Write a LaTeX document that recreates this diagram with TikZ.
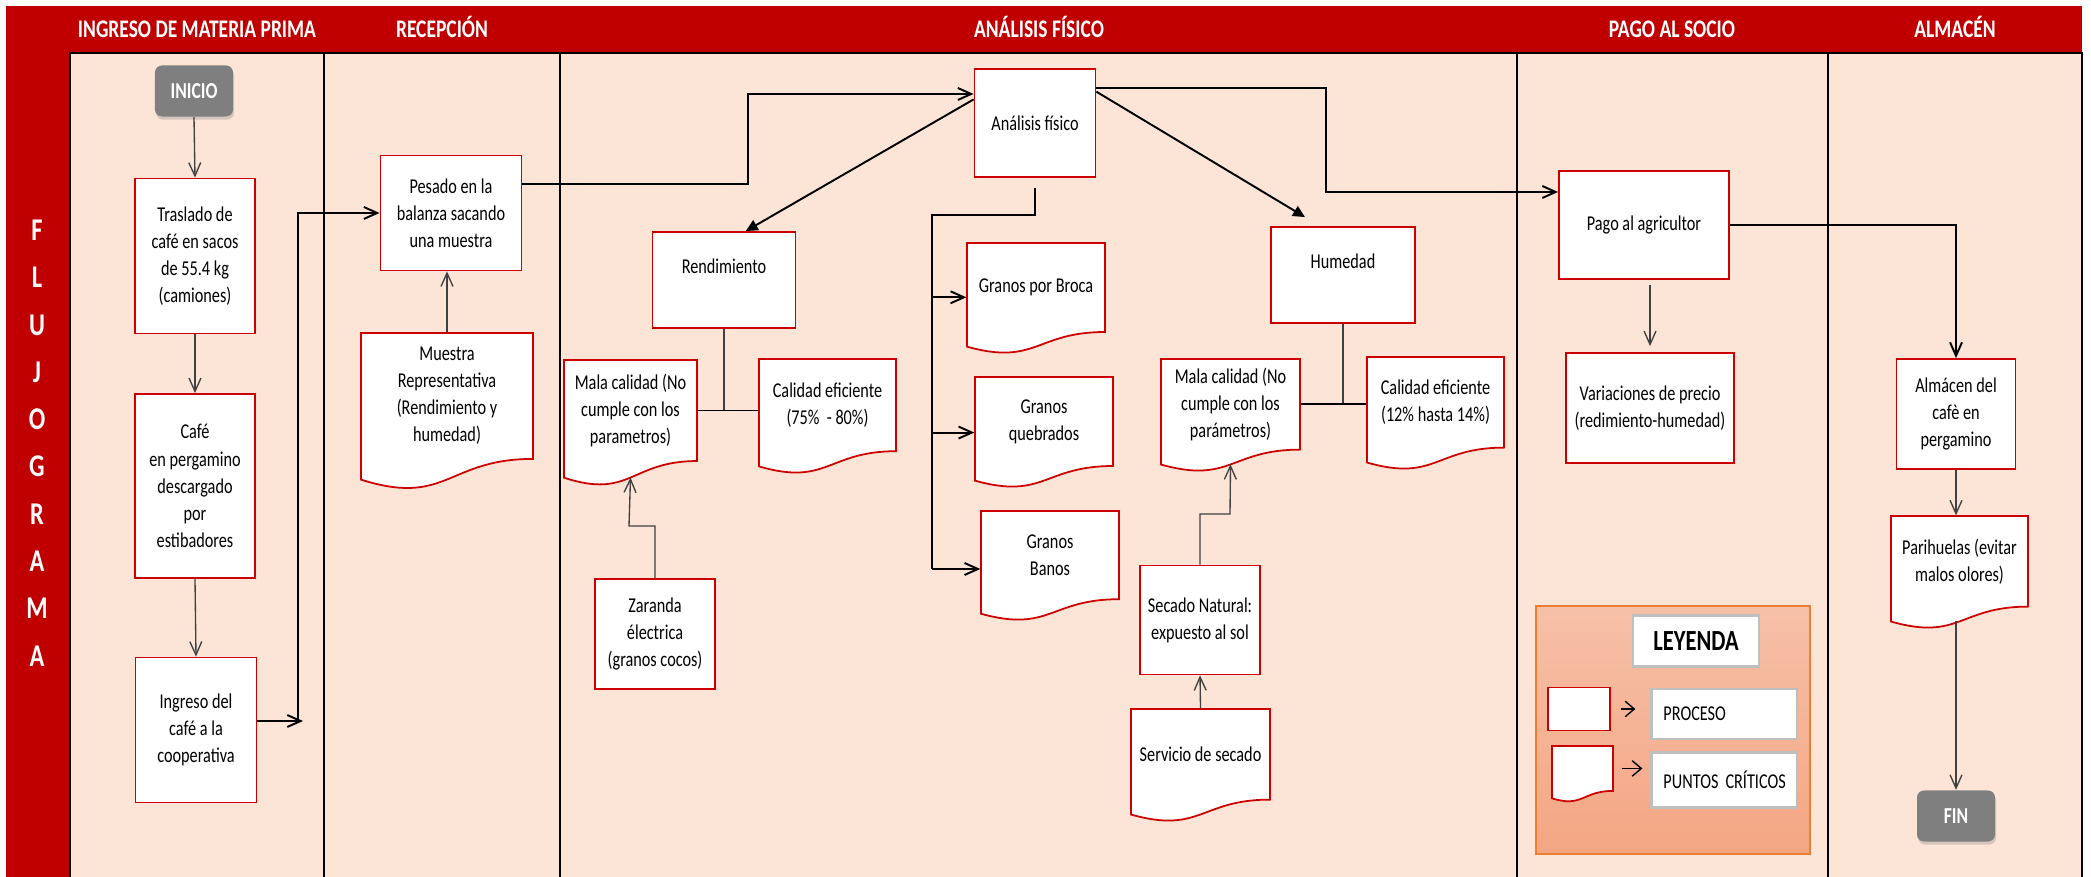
\documentclass[tikz,border=0pt]{standalone}
\usepackage{fontspec}
\setmainfont{Carlito}[FakeStretch=0.77]
\usetikzlibrary{arrows.meta,shadows}
\definecolor{hdrred}{RGB}{192,0,0}
\definecolor{lanefill}{RGB}{252,228,214}
\definecolor{boxred}{RGB}{204,0,0}
\definecolor{inigray}{RGB}{127,127,127}
\definecolor{legorange}{RGB}{237,125,49}
\definecolor{legtop}{RGB}{246,192,168}
\definecolor{legbot}{RGB}{244,166,131}
\definecolor{leggray}{RGB}{191,191,191}
\tikzstyle{lanetitle} = [text=white, font=\fontsize{7.2}{8}\selectfont\bfseries, text height=4.6pt, text depth=0pt]
\tikzstyle{stripletters} = [text=white, align=center, font=\fontsize{9}{13.45}\selectfont\bfseries]
\tikzstyle{laneline} = [draw=black, line width=0.6pt]
\tikzstyle{proc} = [draw=boxred, fill=white, line width=0.5pt, rectangle, inner sep=0pt, align=center, font=\fontsize{6}{7.7}\selectfont]
\tikzstyle{docline} = [draw=boxred, fill=white, line width=0.5pt]
\tikzstyle{doctext} = [inner sep=0pt, align=center, font=\fontsize{6}{7.7}\selectfont]
\tikzstyle{term} = [fill=inigray, rounded corners=2pt, text=white, inner sep=0pt, minimum width=0.78cm, minimum height=0.51cm, font=\fontsize{6.5}{8}\selectfont\bfseries, text height=4.2pt, text depth=0pt, drop shadow={opacity=0.3, shadow xshift=0.3pt, shadow yshift=-0.9pt}]
\tikzstyle{legendbox} = [draw=legorange, line width=0.6pt, top color=legtop, bottom color=legbot]
\tikzstyle{legwhite} = [draw=leggray, fill=white, line width=0.6pt, inner sep=0pt]
\tikzstyle{legtext} = [text width=1.21cm, inner xsep=0.12cm, align=left, font=\fontsize{6}{7.7}\selectfont]
\tikzstyle{conn} = [draw=black, line width=0.55pt, >={Straight Barb[length=3.8pt,width=3.4pt]}]
\tikzstyle{thinconn} = [draw=black!75, line width=0.38pt, >={Straight Barb[length=3.8pt,width=3.4pt]}]
\tikzstyle{legconn} = [draw=black, line width=0.4pt, >={Straight Barb[length=2.6pt,width=4.4pt]}]
\tikzstyle{solidtip} = [-{Triangle[length=3.4pt,width=3.2pt]}]
\newcommand{\flowdoc}[6]{%
  \draw[docline] (#2,#3) -- ({#2+#4},#3) -- ({#2+#4},{#3+0.802*#5})
    .. controls ({#2+0.5*#4},{#3+0.802*#5}) and ({#2+0.5*#4},{#3+1.1075*#5}) .. (#2,{#3+0.934*#5}) -- cycle;
  \node[doctext, minimum width=#4*0.01cm, minimum height=0.802*#5*0.01cm] (#1) at ({#2+0.5*#4},{#3+0.401*#5}) {#6};
  \coordinate (#1-w) at ({#2+0.5*#4},{#3+0.933*#5});
}

\begin{document}
\begin{tikzpicture}[x=0.01cm, y=-0.01cm]
\useasboundingbox (0,0) rectangle (2091,877);
\fill[white] (0,0) rectangle (2091,877);
\fill[hdrred] (6,6) rectangle (2082,53);
\fill[hdrred] (6,53) rectangle (70,877);
\fill[lanefill] (70,53) rectangle (2082,877);
\draw[laneline] (70,877) -- (70,53) -- (2082,53) -- (2082,877);
\draw[laneline] (324,53) -- (324,877);
\draw[laneline] (560,53) -- (560,877);
\draw[laneline] (1517,53) -- (1517,877);
\draw[laneline] (1828,53) -- (1828,877);

\node[lanetitle] (ttingreso) at (197,29) {INGRESO DE MATERIA PRIMA};
\node[lanetitle] (ttrecepcion) at (442,29) {RECEPCIÓN};
\node[lanetitle] (ttanalisis) at (1039,29) {ANÁLISIS FÍSICO};
\node[lanetitle] (ttpago) at (1672,29) {PAGO AL SOCIO};
\node[lanetitle] (ttalmacen) at (1955,29) {ALMACÉN};
\node[stripletters] (flujograma) at (37,443) {F\\L\\U\\J\\O\\G\\R\\A\\M\\A};

\node[term] (inicio) at (194,91) {INICIO};
\node[proc, minimum width=1.2cm, minimum height=1.55cm] (traslado) at (195,256) {Traslado de\\café en sacos\\de 55.4 kg\\(camiones)};
\node[proc, minimum width=1.2cm, minimum height=1.84cm] (cafe) at (195,486) {Café\\en pergamino\\descargado\\por\\estibadores};
\node[proc, minimum width=1.21cm, minimum height=1.45cm] (ingreso) at (196,730) {Ingreso del\\café a la\\cooperativa};
\node[proc, minimum width=1.41cm, minimum height=1.15cm] (pesado) at (451,213) {Pesado en la\\balanza sacando\\una muestra};
\flowdoc{muestra}{361}{333}{172}{157}{Muestra\\Representativa\\(Rendimiento y\\humedad)}
\node[proc, minimum width=1.21cm, minimum height=1.08cm] (analisis) at (1035,123) {Análisis físico};
\node[proc, minimum width=1.43cm, minimum height=0.96cm] (rendimiento) at (724,280) {Rendimiento\\~};
\flowdoc{malaA}{564}{360}{133}{126}{Mala calidad (No\\cumple con los\\parametros)}
\flowdoc{calidadA}{759}{359}{137}{115}{Calidad eficiente\\(75\%~~- 80\%)}
\node[proc, minimum width=1.2cm, minimum height=1.1cm] (zaranda) at (655,634) {Zaranda\\électrica\\(granos cocos)};
\flowdoc{broca}{967}{243}{138}{111}{Granos por Broca}
\flowdoc{quebrados}{975}{377}{138}{111}{Granos\\quebrados}
\flowdoc{banos}{981}{511}{138}{110}{Granos\\Banos}
\node[proc, minimum width=1.44cm, minimum height=0.96cm] (humedad) at (1343,275) {Humedad\\~};
\flowdoc{malaB}{1161}{359}{139}{113}{Mala calidad (No\\cumple con los\\parámetros)}
\flowdoc{calidadB}{1367}{357}{137}{113}{Calidad eficiente\\(12\% hasta 14\%)}
\node[proc, minimum width=1.2cm, minimum height=1.09cm] (secado) at (1200,620) {Secado Natural:\\expuesto al sol};
\flowdoc{servicio}{1131}{709}{139}{113}{Servicio de secado}
\node[proc, minimum width=1.7cm, minimum height=1.08cm] (pago) at (1644,225) {Pago al agricultor};
\node[proc, minimum width=1.68cm, minimum height=1.1cm] (variaciones) at (1650,408) {Variaciones de precio\\(redimiento-humedad)};
\node[proc, minimum width=1.19cm, minimum height=1.1cm] (almacen) at (1956,414) {Almácen del\\cafè en\\pergamino};
\flowdoc{parihuelas}{1891}{516}{137}{113}{Parihuelas (evitar\\malos olores)}
\node[term] (fin) at (1956,816) {FIN};

\node[legendbox, minimum width=2.73cm, minimum height=2.47cm] (leyenda) at (1673,730) {};
\node[legwhite, minimum width=1.26cm, minimum height=0.51cm, font=\fontsize{8.3}{9}\selectfont\bfseries] (leytitulo) at (1696,641) {LEYENDA};
\node[proc, minimum width=0.62cm, minimum height=0.43cm] (legproc) at (1579,709) {};
\node[legwhite, legtext, minimum height=0.5cm] (legproctxt) at (1724,714) {PROCESO};
\flowdoc{legdoc}{1552}{746}{61}{56}{}
\node[legwhite, legtext, minimum height=0.55cm] (legdoctxt) at (1724,780) {\mbox{PUNTOS CRÍTICOS}};

\coordinate (jogA) at (298,721);
\coordinate (jogB) at (748,94);
\coordinate (jogC) at (1326,192);
\coordinate (jogD) at (932,215);
\coordinate (jogE) at (932,569);
\coordinate (jogF) at (629,526);
\coordinate (jogG) at (1230,514);

\draw[thinconn,->] (inicio.south) -- (traslado.north);
\draw[thinconn,->] (traslado.south) -- (cafe.north);
\draw[thinconn,->] (cafe.south) -- (ingreso.north);
\draw[conn,->] (ingreso.east |- jogA) -- ([xshift=0.05cm]jogA);
\draw[conn,->] (jogA) |- (pesado.west);
\draw[thinconn,->] (muestra.north) -- (muestra.north |- pesado.south);
\draw[conn,->] ([yshift=0.29cm]pesado.east) -| (jogB) -- (jogB -| analisis.west);
\draw[conn,solidtip] (analisis.159) -- (rendimiento.66);
\draw[conn,solidtip] (analisis.27) -- ([xshift=-0.38cm,yshift=0.09cm]humedad.north);
\draw[conn,->] ([yshift=0.35cm]analisis.east) -| (jogC) -- (jogC -| pago.west);
\draw[conn] ([yshift=-0.1cm]analisis.south) |- (jogD) -- (jogE);
\draw[conn,->] (jogD |- broca.188) -- (broca.188);
\draw[conn,->] (jogD |- quebrados.189) -- (quebrados.189);
\draw[conn,->] (jogE) -- (jogE -| banos.west);
\draw[thinconn] (rendimiento.south) -- (rendimiento.south |- malaA.east);
\draw[conn] (malaA.east) -- (malaA.east -| calidadA.west);
\draw[thinconn,->] (zaranda.north) |- (jogF) -- (malaA-w);
\draw[thinconn] (humedad.south) -- (humedad.south |- malaB.east);
\draw[conn] (malaB.east) -- (malaB.east -| calidadB.west);
\draw[thinconn,->] (secado.north) |- (jogG) -- (malaB-w);
\draw[thinconn,->] (servicio.north) -- (secado.south);
\draw[thinconn,->, shorten <=0.05cm, shorten >=0.06cm] (variaciones.north |- pago.south) -- (variaciones.north);
\draw[conn,->] (pago.east) -| (almacen.north);
\draw[thinconn,->] (almacen.south) -- (almacen.south |- parihuelas.north);
\draw[thinconn,->] (fin.north |- parihuelas-w) -- (fin.north);
\draw[legconn,->, shorten <=0.1cm, shorten >=0.15cm] (legproc.east) -- (legproc.east -| legproctxt.west);
\draw[legconn,->, shorten <=0.08cm, shorten >=0.08cm] (legdoc.east) -- (legdoc.east -| legdoctxt.west);
\end{tikzpicture}
\end{document}
